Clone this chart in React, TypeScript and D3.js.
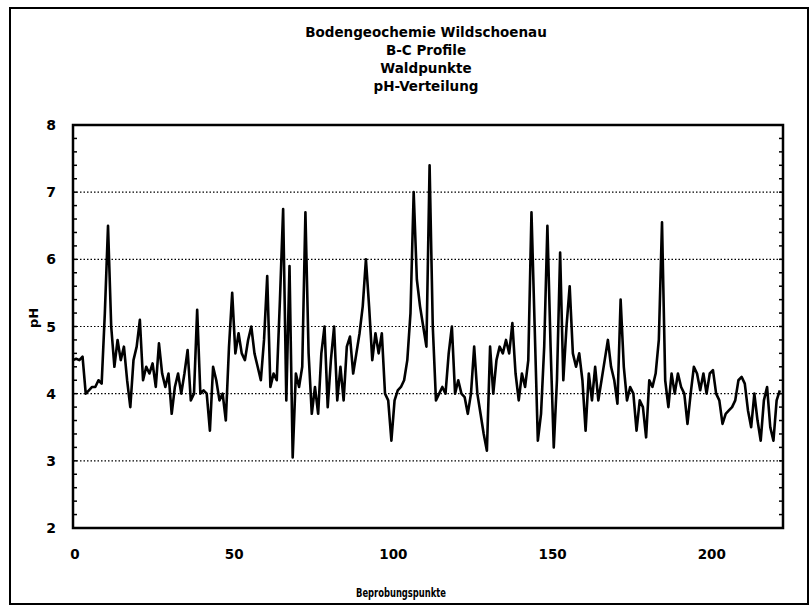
import React, { useEffect, useRef } from "react";
import * as d3 from "d3";

// pH values per sampling point (index = Beprobungspunkt)
const phValues: number[] = [
  4.5, 4.52, 4.5, 4.55, 4.0, 4.05, 4.1, 4.1, 4.2, 4.15,
  5.2, 6.5, 5.0, 4.4, 4.8, 4.5, 4.7, 4.2, 3.8, 4.5,
  4.7, 5.1, 4.2, 4.4, 4.3, 4.45, 4.1, 4.75, 4.3, 4.1,
  4.3, 3.7, 4.1, 4.3, 4.0, 4.3, 4.65, 3.9, 4.0, 5.25,
  4.0, 4.05, 4.0, 3.45, 4.4, 4.2, 3.9, 4.0, 3.6, 4.7,
  5.5, 4.6, 4.9, 4.6, 4.5, 4.8, 5.0, 4.6, 4.4, 4.2,
  4.8, 5.75, 4.1, 4.3, 4.2, 5.4, 6.75, 3.9, 5.9, 3.05,
  4.3, 4.1, 4.4, 6.7, 4.6, 3.7, 4.1, 3.7, 4.6, 5.0,
  3.8, 4.5, 5.0, 3.9, 4.4, 3.9, 4.7, 4.85, 4.3, 4.6,
  4.9, 5.3, 6.0, 5.3, 4.5, 4.9, 4.6, 4.9, 4.0, 3.9,
  3.3, 3.9, 4.05, 4.1, 4.2, 4.5, 5.2, 7.0, 5.7, 5.3,
  5.0, 4.7, 7.4, 5.0, 3.9, 4.0, 4.1, 4.0, 4.6, 5.0,
  4.0, 4.2, 4.0, 3.95, 3.7, 4.0, 4.7, 4.0, 3.7, 3.4,
  3.15, 4.7, 4.0, 4.5, 4.7, 4.6, 4.8, 4.6, 5.05, 4.3,
  3.9, 4.3, 4.1, 4.5, 6.7, 5.0, 3.3, 3.7, 4.7, 6.5,
  4.7, 3.2, 4.2, 6.1, 4.2, 5.0, 5.6, 4.6, 4.4, 4.6,
  4.2, 3.45, 4.3, 3.9, 4.4, 3.9, 4.2, 4.5, 4.8, 4.4,
  4.2, 3.85, 5.4, 4.4, 3.9, 4.1, 4.0, 3.45, 3.9, 3.8,
  3.35, 4.2, 4.1, 4.3, 4.8, 6.55, 4.2, 3.8, 4.3, 4.0,
  4.3, 4.1, 4.0, 3.55, 4.0, 4.4, 4.3, 4.05, 4.3, 4.0,
  4.3, 4.35, 4.0, 3.9, 3.55, 3.7, 3.75, 3.8, 3.9, 4.2,
  4.25, 4.15, 3.75, 3.5, 4.0, 3.6, 3.3, 3.9, 4.1, 3.5,
  3.3, 3.9, 4.05,
];

const titleLines = [
  "Bodengeochemie Wildschoenau",
  "B-C Profile",
  "Waldpunkte",
  "pH-Verteilung",
];
const xTicks = [0, 50, 100, 150, 200];
const yTicks = [2, 3, 4, 5, 6, 7, 8];
const gridValues = [3, 4, 5, 6, 7];

export default function App() {
  const svgRef = useRef<SVGSVGElement | null>(null);

  useEffect(() => {
    if (!svgRef.current) return;
    const svg = d3.select(svgRef.current);
    svg.selectAll("*").remove();

    const W = 811;
    const H = 607;
    const left = 73;
    const right = 783;
    const top = 125;
    const bottom = 528;
    const font = "'DejaVu Sans', sans-serif";

    svg.attr("width", W).attr("height", H);
    svg.append("rect").attr("width", W).attr("height", H).attr("fill", "#fff");

    // outer page frame
    svg
      .append("rect")
      .attr("x", 10)
      .attr("y", 8)
      .attr("width", 798)
      .attr("height", 596)
      .attr("fill", "none")
      .attr("stroke", "#000")
      .attr("stroke-width", 2);

    const x = d3.scaleLinear().domain([0, 223]).range([left, right]);
    const y = d3.scaleLinear().domain([2, 8]).range([bottom, top]);

    // dotted grid
    svg
      .append("g")
      .selectAll("line")
      .data(gridValues)
      .join("line")
      .attr("x1", left)
      .attr("x2", right)
      .attr("y1", (d) => y(d))
      .attr("y2", (d) => y(d))
      .attr("stroke", "#000")
      .attr("stroke-width", 1.2)
      .attr("stroke-dasharray", "1.5,2");

    // minor ticks on left / right
    const minor = d3.range(2, 8.001, 0.2);
    const tickG = svg.append("g").attr("stroke", "#000").attr("stroke-width", 1.5);
    tickG
      .selectAll("line.l")
      .data(minor)
      .join("line")
      .attr("class", "l")
      .attr("x1", left)
      .attr("x2", left + 4)
      .attr("y1", (d) => y(d))
      .attr("y2", (d) => y(d));
    tickG
      .selectAll("line.r")
      .data(minor)
      .join("line")
      .attr("class", "r")
      .attr("x1", right - 4)
      .attr("x2", right)
      .attr("y1", (d) => y(d))
      .attr("y2", (d) => y(d));

    // data line
    const line = d3
      .line<number>()
      .x((_, i) => x(i))
      .y((d) => y(d));
    svg
      .append("path")
      .datum(phValues)
      .attr("fill", "none")
      .attr("stroke", "#000")
      .attr("stroke-width", 2.6)
      .attr("stroke-linejoin", "round")
      .attr("d", line);

    // plot frame
    svg
      .append("rect")
      .attr("x", left)
      .attr("y", top)
      .attr("width", right - left)
      .attr("height", bottom - top)
      .attr("fill", "none")
      .attr("stroke", "#000")
      .attr("stroke-width", 2.5);

    // tick labels
    svg
      .append("g")
      .selectAll("text")
      .data(yTicks)
      .join("text")
      .attr("x", 56)
      .attr("y", (d) => y(d) + 5)
      .attr("text-anchor", "end")
      .attr("font-family", font)
      .attr("font-weight", "bold")
      .attr("font-size", 14)
      .text((d) => d);

    svg
      .append("g")
      .selectAll("text")
      .data(xTicks)
      .join("text")
      .attr("x", (d) => x(d) + 2)
      .attr("y", 559)
      .attr("text-anchor", "middle")
      .attr("font-family", font)
      .attr("font-weight", "bold")
      .attr("font-size", 13.5)
      .text((d) => d);

    // titles
    svg
      .append("g")
      .selectAll("text")
      .data(titleLines)
      .join("text")
      .attr("x", 426)
      .attr("y", (_, i) => 37 + i * 18)
      .attr("text-anchor", "middle")
      .attr("font-family", font)
      .attr("font-weight", "bold")
      .attr("font-size", 13.5)
      .text((d) => d);

    // axis labels
    svg
      .append("text")
      .attr("transform", "translate(38,318) rotate(-90)")
      .attr("text-anchor", "middle")
      .attr("font-family", font)
      .attr("font-weight", "bold")
      .attr("font-size", 13)
      .text("pH");

    svg
      .append("text")
      .attr("x", 401)
      .attr("y", 597)
      .attr("text-anchor", "middle")
      .attr("font-family", font)
      .attr("font-weight", "bold")
      .attr("font-size", 12)
      .attr("textLength", 90)
      .attr("lengthAdjust", "spacingAndGlyphs")
      .text("Beprobungspunkte");
  }, []);

  return (
    <div style={{ position: "absolute", left: 0, top: 0 }}>
      <svg ref={svgRef} style={{ display: "block" }}></svg>
    </div>
  );
}
